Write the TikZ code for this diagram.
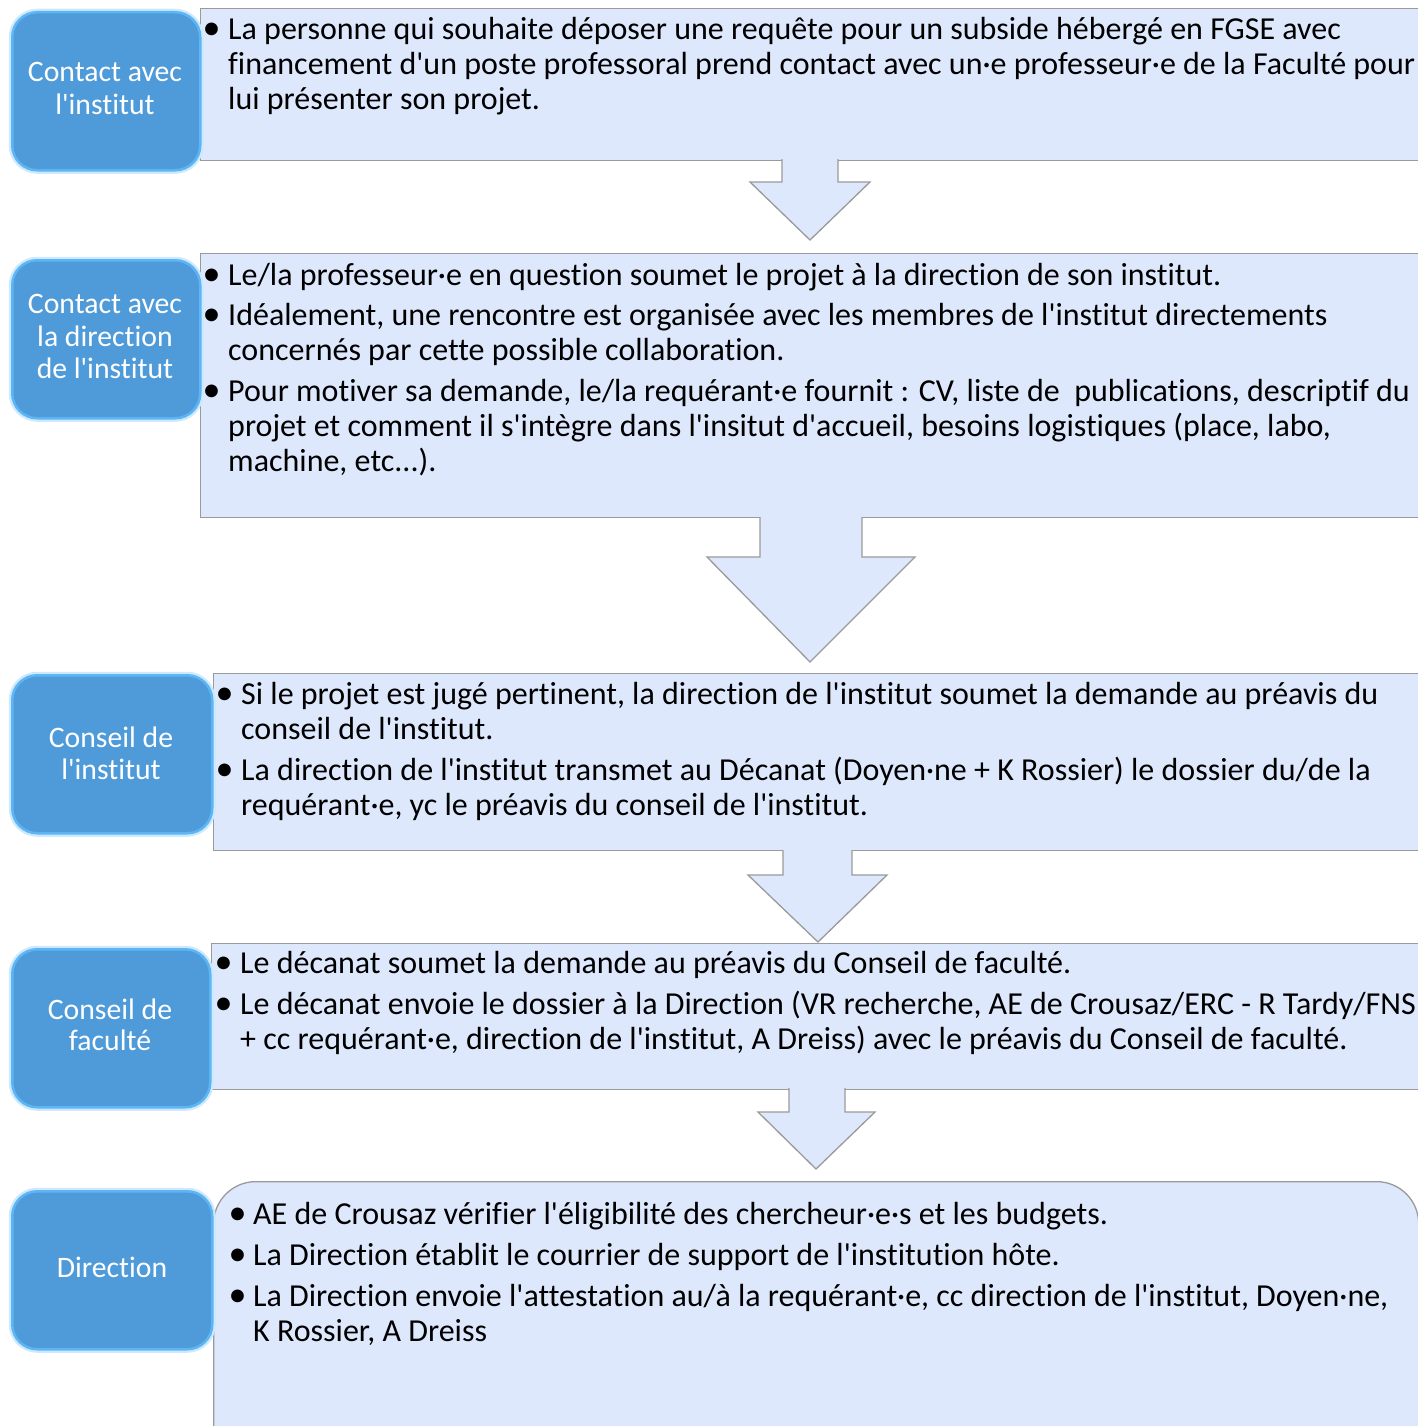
\documentclass[tikz,border=0pt]{standalone}
\usepackage{fontspec}
\setmainfont{Carlito}[Ligatures={TeXOff,NoCommon,NoContextual}]
\usetikzlibrary{calc}
\definecolor{boxfill}{HTML}{DEE8FC}
\definecolor{boxline}{HTML}{9A9A9A}
\definecolor{bluefill}{HTML}{4F9BDA}
\definecolor{blueedge}{HTML}{5CB6F6}
\tikzset{
  x=1pt, y=-1pt,
  txtbox/.style={draw=boxline, fill=boxfill, line width=1.3pt, rectangle, anchor=north west, inner sep=0pt},
  lblbox/.style={rounded corners=25pt, draw=blueedge, line width=2.5pt, fill=bluefill, anchor=north west, inner sep=0pt,
     preaction={draw=blueedge!30, line width=7pt}},
  body/.style={anchor=base west, inner sep=0pt, yshift=-1pt, font=\fontsize{32}{35}\selectfont, text=black},
  bull/.style={body, font=\fontsize{36}{35}\selectfont, xshift=-2.5pt},
  labtxt/.style={anchor=base, inner sep=0pt, font=\fontsize{29.7}{32}\selectfont, text=white},
  arrline/.style={draw=boxline, line width=1.3pt, line join=miter},
}
\newcommand\blockarrow[8]{%
  \fill[boxfill] (#2,#1) -- (#2,#4) -- (#5,#4) -- (#7,#8) -- (#6,#4) -- (#3,#4) -- (#3,#1) -- cycle;
  \draw[arrline] (#2,{#1+2}) -- (#2,#4) -- (#5,#4) -- (#7,#8) -- (#6,#4) -- (#3,#4) -- (#3,{#1+2});
}
\begin{document}
\begin{tikzpicture}
\useasboundingbox (0,0) rectangle (1417,1426);
\fill[white] (0,0) rectangle (1417,1426);

% text boxes
\node[txtbox, minimum width=1230pt, minimum height=152pt] (t1) at (200,8) {};
\node[txtbox, minimum width=1230pt, minimum height=264pt] (t2) at (200,253) {};
\node[txtbox, minimum width=1220pt, minimum height=177pt] (t3) at (213,673) {};
\node[txtbox, minimum width=1220pt, minimum height=146pt] (t4) at (211,943) {};
\node[txtbox, rounded corners=42pt, minimum width=1205pt, minimum height=290pt] (t5) at (213,1181) {};

% block arrows
\blockarrow{157}{782}{838}{182}{750}{870}{810}{240}
\blockarrow{515}{760}{862}{557}{707}{915}{810}{662}
\blockarrow{848}{783}{852}{875}{748}{887}{818}{942}
\blockarrow{1086}{789}{845}{1112}{758}{875}{816}{1169}

% label boxes
\node[lblbox, minimum width=188pt, minimum height=158pt] (l1) at (11,11) {};
\node[lblbox, minimum width=188pt, minimum height=158pt] (l2) at (11,259) {};
\node[lblbox, minimum width=200pt, minimum height=158pt] (l3) at (11,674) {};
\node[lblbox, minimum width=198pt, minimum height=158pt] (l4) at (11,948) {};
\node[lblbox, minimum width=200pt, minimum height=158pt] (l5) at (11,1190) {};

% labels
\node[labtxt] (l1a) at (105,82) {Contact avec};
\node[labtxt] (l1b) at (105,114) {l'institut};
\node[labtxt] (l2a) at (105,313) {Contact avec};
\node[labtxt] (l2b) at (105,346) {la direction};
\node[labtxt] (l2c) at (105,378) {de l'institut};
\node[labtxt] (l3a) at (111,747) {Conseil de};
\node[labtxt] (l3b) at (111,779) {l'institut};
\node[labtxt] (l4a) at (110,1019) {Conseil de};
\node[labtxt] (l4b) at (110,1050) {faculté};
\node[labtxt] (l5a) at (112,1277) {Direction};

% box 1 text
\node[bull] (b1) at (205,39) {•};
\node[body] (s1a) at (228,39) {La personne qui souhaite déposer une requête pour un subside hébergé en FGSE avec};
\node[body] (s1b) at (228,74) {financement d'un poste professoral prend contact avec un·e professeur·e de la Faculté pour};
\node[body] (s1c) at (228,109) {lui présenter son projet.};

% box 2 text
\node[bull] (b2a) at (205,284) {•};
\node[body] (s2a) at (228,284) {Le/la professeur·e en question soumet le projet à la direction de son institut.};
\node[bull] (b2b) at (205,324.5) {•};
\node[body] (s2b) at (228,324.5) {Idéalement, une rencontre est organisée avec les membres de l'institut directements};
\node[body] (s2c) at (228,359.5) {concernés par cette possible collaboration.};
\node[bull] (b2c) at (205,400) {•};
\node[body] (s2d) at (228,400) {Pour motiver sa demande, le/la requérant·e fournit : CV, liste de\ \ publications, descriptif du};
\node[body] (s2e) at (228,435) {projet et comment il s'intègre dans l'insitut d'accueil, besoins logistiques (place, labo,};
\node[body] (s2f) at (228,470) {machine, etc...).};

% box 3 text
\node[bull] (b3a) at (218,703) {•};
\node[body] (s3a) at (241,703) {Si le projet est jugé pertinent, la direction de l'institut soumet la demande au préavis du};
\node[body] (s3b) at (241,738) {conseil de l'institut.};
\node[bull] (b3b) at (218,779) {•};
\node[body] (s3c) at (241,779) {La direction de l'institut transmet au Décanat (Doyen·ne + K Rossier) le dossier du/de la};
\node[body] (s3d) at (241,814) {requérant·e, yc le préavis du conseil de l'institut.};

% box 4 text
\node[bull] (b4a) at (217,972) {•};
\node[body] (s4a) at (240,972) {Le décanat soumet la demande au préavis du Conseil de faculté.};
\node[bull] (b4b) at (217,1013) {•};
\node[body] (s4b) at (240,1013) {Le décanat envoie le dossier à la Direction (VR recherche, AE de Crousaz/ERC - R Tardy/FNS};
\node[body] (s4c) at (240,1048) {+ cc requérant·e, direction de l'institut, A Dreiss) avec le préavis du Conseil de faculté.};

% box 5 text
\node[bull] (b5a) at (231,1223) {•};
\node[body] (s5a) at (253,1223) {AE de Crousaz vérifier l'éligibilité des chercheur·e·s et les budgets.};
\node[bull] (b5b) at (231,1264) {•};
\node[body] (s5b) at (253,1264) {La Direction établit le courrier de support de l'institution hôte.};
\node[bull] (b5c) at (231,1305) {•};
\node[body] (s5c) at (253,1305) {La Direction envoie l'attestation au/à la requérant·e, cc direction de l'institut, Doyen·ne,};
\node[body] (s5d) at (253,1340) {K Rossier, A Dreiss};
\end{tikzpicture}
\end{document}
